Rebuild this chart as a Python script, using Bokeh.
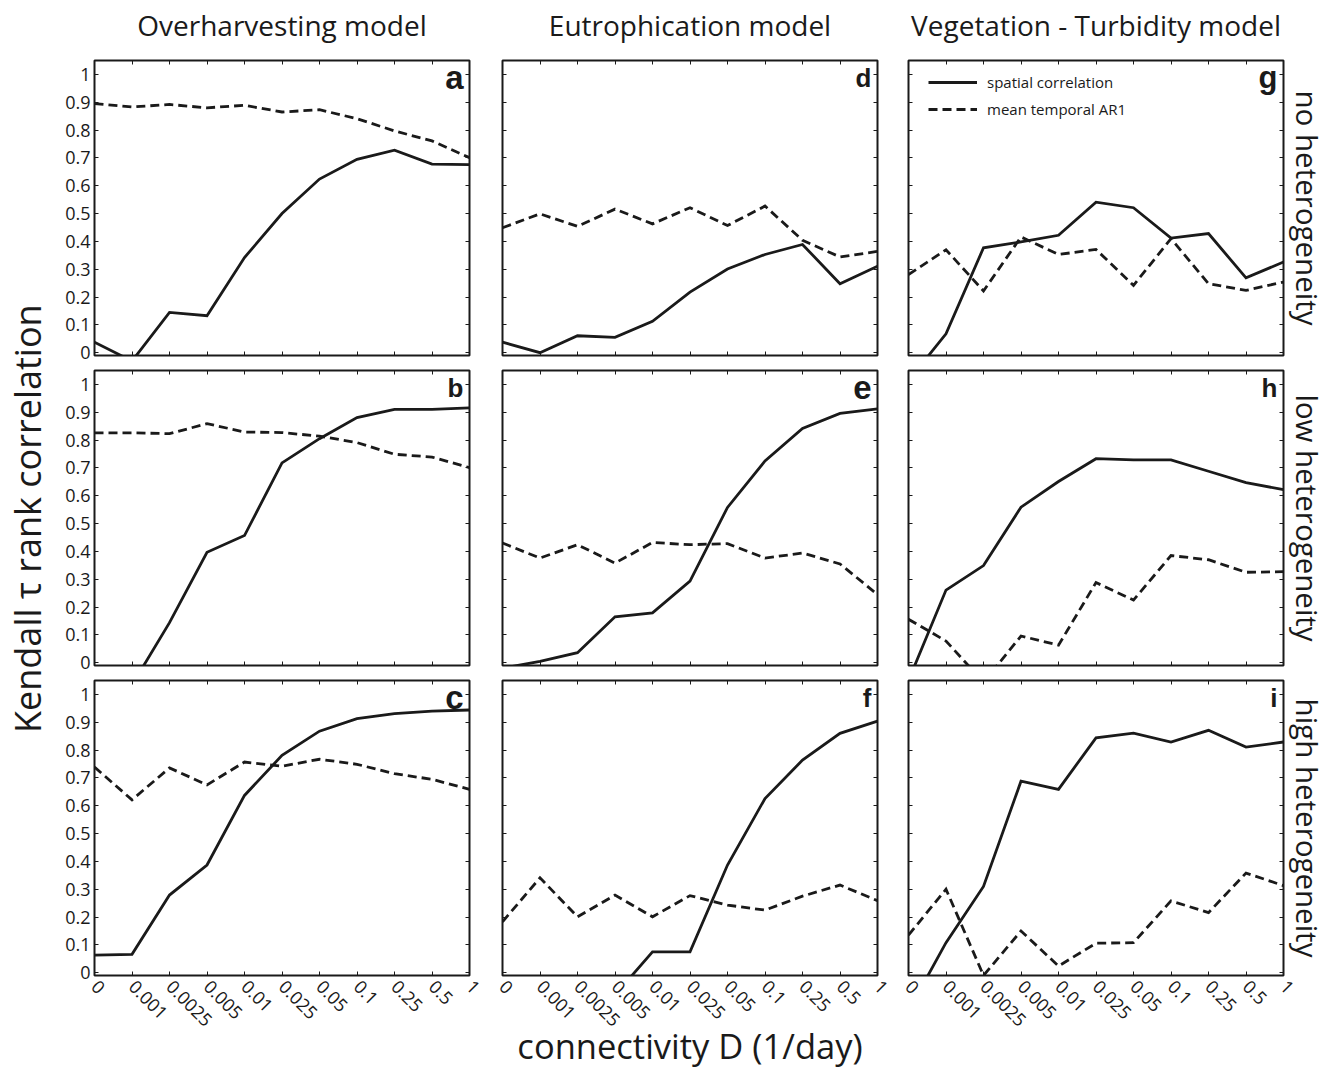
from math import pi
from bokeh.plotting import figure
from bokeh.models import FixedTicker, LinearAxis, Label, Title, Range1d, ColumnDataSource, Legend, LegendItem
from bokeh.layouts import row, column
from bokeh.embed import file_html
from bokeh.resources import INLINE

# ---------------- data ----------------
X_LABELS = ["0", "0.001", "0.0025", "0.005", "0.01", "0.025", "0.05", "0.1", "0.25", "0.5", "1"]
Y_TICKS = [0, 0.1, 0.2, 0.3, 0.4, 0.5, 0.6, 0.7, 0.8, 0.9, 1.0]
Y_TICK_LABELS = ["0", "0.1", "0.2", "0.3", "0.4", "0.5", "0.6", "0.7", "0.8", "0.9", "1"]
MODELS = ["Overharvesting model", "Eutrophication model", "Vegetation - Turbidity model"]
HETEROGENEITY = ["no heterogeneity", "low heterogeneity", "high heterogeneity"]
SERIES = ["spatial correlation", "mean temporal AR1"]
Y_TITLE = "Kendall  \u03c4 rank correlation"
X_TITLE = "connectivity D (1/day)"

# Overharvesting model
spatial_a = [0.038, -0.03, 0.145, 0.133, 0.342, 0.50, 0.624, 0.695, 0.728, 0.678, 0.676]
ar1_a     = [0.895, 0.883, 0.892, 0.880, 0.889, 0.865, 0.873, 0.841, 0.797, 0.761, 0.701]
spatial_b = [-0.10, -0.08, 0.144, 0.397, 0.457, 0.718, 0.805, 0.881, 0.910, 0.910, 0.916]
ar1_b     = [0.826, 0.826, 0.823, 0.859, 0.829, 0.827, 0.814, 0.791, 0.749, 0.739, 0.701]
spatial_c = [0.063, 0.066, 0.279, 0.387, 0.637, 0.781, 0.868, 0.913, 0.931, 0.940, 0.944]
ar1_c     = [0.739, 0.621, 0.736, 0.675, 0.757, 0.742, 0.767, 0.749, 0.715, 0.695, 0.659]
# Eutrophication model
spatial_d = [0.038, 0.0, 0.061, 0.055, 0.113, 0.218, 0.301, 0.353, 0.389, 0.248, 0.311]
ar1_d     = [0.449, 0.499, 0.454, 0.516, 0.463, 0.521, 0.457, 0.527, 0.404, 0.344, 0.364]
spatial_e = [-0.02, 0.005, 0.036, 0.165, 0.179, 0.293, 0.558, 0.725, 0.842, 0.896, 0.912]
ar1_e     = [0.430, 0.376, 0.424, 0.358, 0.432, 0.424, 0.428, 0.376, 0.394, 0.355, 0.245]
spatial_f = [-0.15, -0.12, -0.10, -0.08, 0.075, 0.075, 0.387, 0.626, 0.764, 0.860, 0.904]
ar1_f     = [0.183, 0.341, 0.201, 0.279, 0.201, 0.277, 0.243, 0.225, 0.275, 0.315, 0.259]
# Vegetation - Turbidity model
spatial_g = [-0.10, 0.068, 0.377, 0.398, 0.422, 0.541, 0.521, 0.412, 0.428, 0.269, 0.326]
ar1_g     = [0.281, 0.370, 0.222, 0.416, 0.353, 0.371, 0.242, 0.410, 0.248, 0.224, 0.254]
spatial_h = [-0.064, 0.261, 0.349, 0.559, 0.651, 0.733, 0.729, 0.729, 0.688, 0.647, 0.622]
ar1_h     = [0.156, 0.078, -0.07, 0.096, 0.063, 0.288, 0.225, 0.385, 0.370, 0.325, 0.327]
spatial_i = [-0.137, 0.108, 0.310, 0.688, 0.659, 0.844, 0.861, 0.829, 0.871, 0.811, 0.829]
ar1_i     = [0.135, 0.300, -0.01, 0.150, 0.024, 0.106, 0.108, 0.258, 0.216, 0.358, 0.313]

PANELS = [  # rows = heterogeneity, columns = model
    [("a", spatial_a, ar1_a), ("d", spatial_d, ar1_d), ("g", spatial_g, ar1_g)],
    [("b", spatial_b, ar1_b), ("e", spatial_e, ar1_e), ("h", spatial_h, ar1_h)],
    [("c", spatial_c, ar1_c), ("f", spatial_f, ar1_f), ("i", spatial_i, ar1_i)],
]

# ---------------- style / layout ----------------
INK = "#1a1a1a"
FONT = "Open Sans"
LETTER_FONT = "Liberation Sans"
LETTER_SIZE = {"a": "33px", "c": "33px", "e": "33px", "g": "31px"}
FRAME_W, FRAME_H = 375, 295
LEFT = [39, 16, 15]
RIGHT = [17, 16, 53]
TOP = [15, 5, 5]
BOTTOM = [10, 10, 97]
STRIP_L, STRIP_T = 55, 45
COL_W = [LEFT[c] + FRAME_W + RIGHT[c] for c in range(3)]
ROW_H = [TOP[r] + FRAME_H + BOTTOM[r] for r in range(3)]
TOTAL_H = STRIP_T + sum(ROW_H)
GRID_W = sum(COL_W)
Y_MIN, Y_MAX = -0.01, 1.05

X_POS = list(range(len(X_LABELS)))


def labeled_axis(ticks, labels, **kw):
    return LinearAxis(ticker=FixedTicker(ticks=ticks), axis_line_color=None,
                      major_tick_in=4, major_tick_out=0, major_tick_line_color=INK,
                      minor_tick_line_color=None,
                      major_label_overrides={t: s for t, s in zip(ticks, labels)},
                      major_label_text_font=FONT, major_label_text_color=INK,
                      major_label_text_font_size="18px", **kw)


def tick_only_axis(ticks):
    # ticks without labels: drawn as minor ticks so no empty text is produced
    return LinearAxis(ticker=FixedTicker(ticks=[], minor_ticks=ticks), axis_line_color=None,
                      major_tick_line_color=None, minor_tick_in=4, minor_tick_out=0,
                      minor_tick_line_color=INK, major_label_standoff=0)


def blank(w, h):
    f = figure(width=w, height=h, x_range=Range1d(0, w), y_range=Range1d(0, h),
               x_axis_type=None, y_axis_type=None, min_border=0, output_backend="svg",
               toolbar_location=None, tools="")
    f.outline_line_color = None
    return f


def make_panel(r, c):
    letter, spatial, ar1 = PANELS[r][c]
    p = figure(width=COL_W[c], height=ROW_H[r], x_range=Range1d(X_POS[0], X_POS[-1]),
               y_range=Range1d(Y_MIN, Y_MAX), x_axis_type=None, y_axis_type=None,
               output_backend="svg", toolbar_location=None, tools="",
               min_border_left=LEFT[c], min_border_right=RIGHT[c],
               min_border_top=TOP[r], min_border_bottom=BOTTOM[r])
    p.outline_line_color = INK
    p.outline_line_width = 2
    p.background_fill_color = "white"
    p.border_fill_color = "white"

    if r == 2:
        xb = labeled_axis(X_POS, X_LABELS, major_label_orientation=-pi / 4, major_label_standoff=8)
        if c == 1:
            xb.axis_label = X_TITLE
            xb.axis_label_text_font = FONT
            xb.axis_label_text_font_size = "34.5px"
            xb.axis_label_text_font_style = "normal"
            xb.axis_label_text_color = INK
            xb.axis_label_standoff = -13
        p.add_layout(xb, "below")
    else:
        p.add_layout(tick_only_axis(X_POS), "below")
    p.add_layout(tick_only_axis(X_POS), "above")
    if c == 0:
        p.add_layout(labeled_axis(Y_TICKS, Y_TICK_LABELS, major_label_standoff=4), "left")
    else:
        p.add_layout(tick_only_axis(Y_TICKS), "left")
    p.add_layout(tick_only_axis(Y_TICKS), "right")

    src = ColumnDataSource(dict(x=X_POS, spatial=spatial, ar1=ar1))
    l1 = p.line("x", "spatial", source=src, line_color=INK, line_width=2.8, line_join="miter")
    l2 = p.line("x", "ar1", source=src, line_color=INK, line_width=2.8, line_dash="9 5", line_join="miter")

    p.add_layout(Label(x=X_POS[-1], y=Y_MAX, x_offset=-6, y_offset=-17, text=letter,
                       text_align="right", text_baseline="alphabetic", text_font=LETTER_FONT,
                       text_font_style="bold", text_font_size=LETTER_SIZE.get(letter, "26px"),
                       text_color=INK))

    if r == 0 and c == 2:
        leg = Legend(items=[LegendItem(label=SERIES[0], renderers=[l1]),
                            LegendItem(label=SERIES[1], renderers=[l2])],
                     location=(20, 236), border_line_color=None, background_fill_alpha=0,
                     label_text_font=FONT, label_text_font_size="15px", label_text_color=INK,
                     glyph_width=49, glyph_height=20, label_height=20, label_standoff=10,
                     spacing=7, padding=0, margin=0)
        p.add_layout(leg, "center")

    if c == 2:
        p.add_layout(Title(text=HETEROGENEITY[r], align="center", text_font=FONT, text_font_size="29.5px",
                           text_font_style="normal", text_color=INK, standoff=6), "right")
    return p


panels = [[make_panel(r, c) for c in range(3)] for r in range(3)]

# column titles (top strip)
top = blank(GRID_W, STRIP_T)
for c in range(3):
    cx = sum(COL_W[:c]) + LEFT[c] + FRAME_W / 2
    top.add_layout(Label(x=cx, y=20.5, text=MODELS[c], text_align="center", text_baseline="alphabetic",
                         text_font=FONT, text_font_size="28px", text_color=INK))

# shared y title (left strip)
left = blank(STRIP_L, TOTAL_H)
mid_y = TOTAL_H - (STRIP_T + ROW_H[0] + TOP[1] + FRAME_H / 2)
left.add_layout(Label(x=27, y=mid_y + 4, text=Y_TITLE, angle=pi / 2, text_align="center",
                      text_baseline="middle", text_font=FONT, text_font_size="36px", text_color=INK))

layout = row(left, column(top, *[row(*rw) for rw in panels]))

open("out.html", "w").write(file_html(layout, INLINE))
